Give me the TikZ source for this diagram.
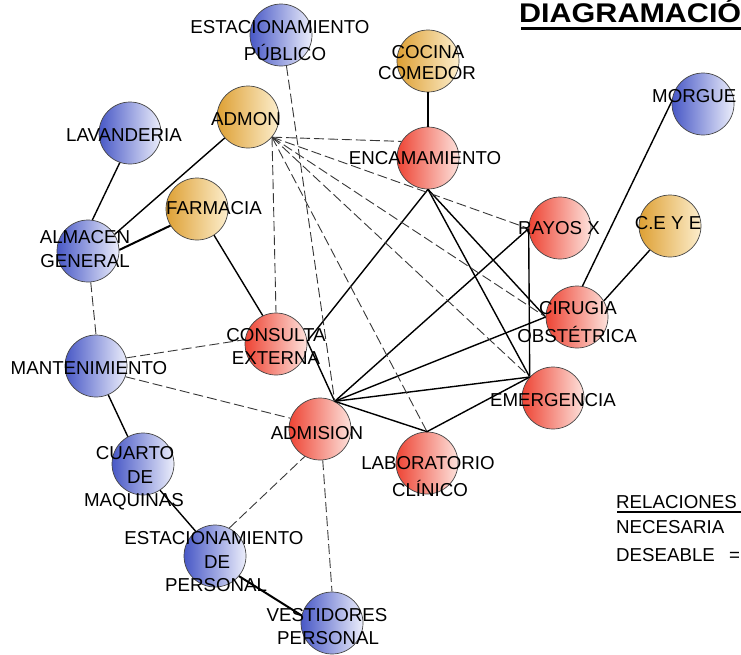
\documentclass[tikz,border=0pt]{standalone}
\usepackage{fontspec}
\setmainfont{Liberation Sans}
\definecolor{blueL}{RGB}{72,88,198}
\definecolor{blueR}{RGB}{236,238,251}
\definecolor{redL}{RGB}{238,68,52}
\definecolor{redR}{RGB}{253,226,220}
\definecolor{oraL}{RGB}{222,160,52}
\definecolor{oraR}{RGB}{252,238,205}
\definecolor{rim}{RGB}{70,70,70}
\definecolor{dashgray}{RGB}{55,55,55}
\begin{document}
\begin{tikzpicture}[x=1pt,y=-1pt,
  room/.style={circle, draw=rim, line width=0.7pt, minimum size=62pt, inner sep=0pt},
  blueroom/.style={room, left color=blueL, right color=blueR},
  redroom/.style={room, left color=redL, right color=redR},
  oraroom/.style={room, left color=oraL, right color=oraR},
  lbl/.style={inner sep=0pt, text height=13.4pt, text depth=0pt, font=\fontsize{18.7}{22}\selectfont},
  nec/.style={draw=black, line width=1.4pt},
  des/.style={draw=dashgray, line width=0.9pt, dash pattern=on 10pt off 4pt},
]
\useasboundingbox (0,0) rectangle (741,654);
\clip (0,0) rectangle (741,654);

% rooms
\node[blueroom] (estpub) at (281,35) {};
\node[oraroom]  (cocina) at (428,61) {};
\node[redroom]  (encam)  at (428,158) {};
\node[oraroom]  (admon)  at (248,117) {};
\node[blueroom] (lav)    at (130,133) {};
\node[blueroom] (alm)    at (88,251) {};
\node[oraroom]  (farm)   at (197,209) {};
\node[redroom]  (cons)   at (276,344) {};
\node[redroom]  (adm)    at (320,429) {};
\node[redroom]  (lab)    at (427,463) {};
\node[redroom]  (rayos)  at (560,228) {};
\node[oraroom]  (ceye)   at (670,226) {};
\node[blueroom] (morgue) at (703,104) {};
\node[redroom]  (cir)    at (577,317) {};
\node[redroom]  (emer)   at (553,398) {};
\node[blueroom] (mant)   at (96,366) {};
\node[blueroom] (cuarto) at (143,464) {};
\node[blueroom] (estper) at (215,556) {};
\node[blueroom] (vest)   at (332,623) {};

% necessary relations
\draw[nec] (lav.-109) -- (alm.82);
\draw[nec] (admon.222) -- (alm.32);
\draw[nec, line width=2pt] (farm.212) -- (alm.2);
\draw[nec] (farm.-57) -- (cons.115);
\draw[nec] (cocina.270) -- (encam.90);
\draw[nec] (mant.-67) -- (cuarto.119);
\draw[nec] (cuarto.-57) -- (estper.128);
\draw[nec, line width=2pt] (estper.-40) -- (vest.166);
\draw[nec] (encam.270) -- (cons.5);
\draw[nec] (cons.5) -- (adm.62);
\draw[nec] (encam.270) -- (cir.180);
\draw[nec] (encam.270) -- (emer.138);
\draw[nec] (adm.62) -- (rayos.181);
\draw[nec] (adm.62) -- (cir.180);
\draw[nec] (adm.62) -- (emer.138);
\draw[nec] (adm.62) -- (lab.90);
\draw[nec] (lab.90) -- (emer.138);
\draw[nec] (rayos.181) -- (emer.138);
\draw[nec] (morgue.175) -- (cir.80);
\draw[nec] (ceye.230) -- (cir.31);

% desirable relations
\draw[des] (alm.-85) -- (mant.90);
\draw[des] (mant.15) -- (cons.172);
\draw[des] (mant.-20) -- (adm.160);
\draw[des] (estper.63) -- (adm.241);
\draw[des] (adm.275) -- (vest.90);
\draw[des] (estpub.-80) -- (adm.62);
\draw[des] (admon.-40) -- (encam.148);
\draw[des] (admon.-40) -- (rayos.181);
\draw[des] (admon.-40) -- (cir.180);
\draw[des] (admon.-40) -- (emer.138);
\draw[des] (admon.-40) -- (lab.90);
\draw[des] (admon.-40) -- (cons.90);

% labels
\node[lbl] (tEstpubA) at (280,27) {ESTACIONAMIENTO};
\node[lbl] (tEstpubB) at (285,54) {PÚBLICO};
\node[lbl] (tCocA) at (428,52) {COCINA};
\node[lbl] (tCocB) at (427,73) {COMEDOR};
\node[lbl] (tEncam) at (425,158) {ENCAMAMIENTO};
\node[lbl] (tAdmon) at (246,119) {ADMON};
\node[lbl] (tLav) at (124,135) {LAVANDERIA};
\node[lbl] (tAlmA) at (85,237) {ALMACEN};
\node[lbl] (tAlmB) at (85,261) {GENERAL};
\node[lbl] (tFarm) at (214,208) {FARMACIA};
\node[lbl] (tConsA) at (276,335) {CONSULTA};
\node[lbl] (tConsB) at (276,358) {EXTERNA};
\node[lbl] (tAdm) at (317,433) {ADMISION};
\node[lbl] (tLabA) at (428,463) {LABORATORIO};
\node[lbl] (tLabB) at (430,490) {CLÍNICO};
\node[lbl] (tRayos) at (559,228) {RAYOS X};
\node[lbl] (tCeye) at (668,223) {C.E Y E};
\node[lbl, anchor=west] (tMorgue) at (652,96) {MORGUE};
\node[lbl] (tCirA) at (578,308) {CIRUGIA};
\node[lbl] (tCirB) at (577,336) {OBSTÉTRICA};
\node[lbl] (tEmer) at (553,400) {EMERGENCIA};
\node[lbl] (tMant) at (89,368) {MANTENIMIENTO};
\node[lbl] (tCuaA) at (135,453) {CUARTO};
\node[lbl] (tCuaB) at (140,477) {DE};
\node[lbl] (tCuaC) at (134,500) {MAQUINAS};
\node[lbl] (tEpA) at (214,538) {ESTACIONAMIENTO};
\node[lbl] (tEpB) at (217,562) {DE};
\node[lbl] (tEpC) at (216,585) {PERSONAL};
\node[lbl] (tVestA) at (327,615) {VESTIDORES};
\node[lbl] (tVestB) at (328,638) {PERSONAL};

% title
\node[anchor=west, inner sep=0pt, text height=19pt, text depth=0pt,
      font=\bfseries\fontsize{27}{31}\selectfont] (title) at (519,12.5)
      {\scalebox{1.13}[1]{DIAGRAMACIÓ}};
\draw[line width=2.6pt] (521,28.5) -- (745,28.5);

% legend
\node[lbl, anchor=west] (legHead) at (616,501.5) {RELACIONES};
\draw[line width=2pt] (617,512) -- (745,512);
\node[lbl, anchor=west] (legNec) at (616,527) {NECESARIA};
\node[lbl, anchor=west] (legDes) at (616,555) {DESEABLE};
\node[lbl, anchor=west] (legEq) at (729,555) {=};
\end{tikzpicture}
\end{document}
